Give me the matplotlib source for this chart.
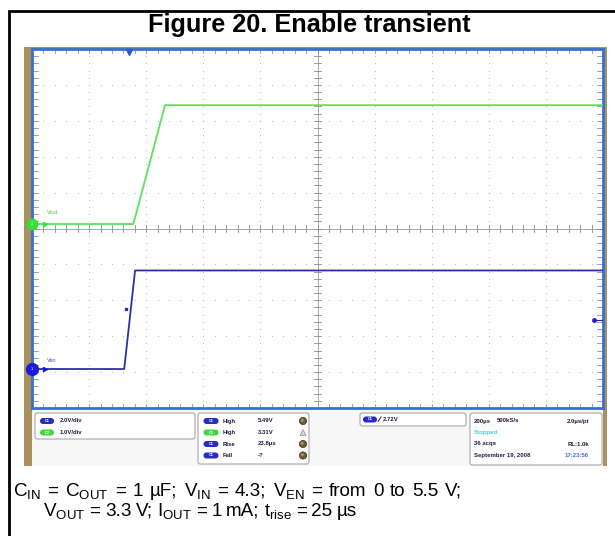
import matplotlib
matplotlib.use("Agg")
import matplotlib.pyplot as plt
import numpy as np
from matplotlib.patches import Rectangle, FancyBboxPatch, Circle, Polygon

# ---------------- data ----------------
TIME_PER_DIV = 200.0            # µs/div
N_XDIV, N_YDIV = 10, 10
# Vout (channel 2, 1.0 V/div)
t_vout = [0, 355, 466, 2000]    # µs
v_vout = [0.0, 0.0, 3.31, 3.31] # V
# Ven (channel 1, 2.0 V/div)
t_ven = [0, 323, 361, 2000]
v_ven = [0.0, 0.0, 5.49, 5.49]
ch1_scale, ch2_scale = 2.0, 1.0     # V/div
ch1_offset, ch2_offset = 1.086, 5.125  # ground position (div from bottom)
trig_level = 2.72
trig_time = 340.0

scale_labels = ["2.0V/div", "1.0V/div"]
meas_names = ["High", "High", "Rise", "Fall"]
meas_values = ["5.49V", "3.31V", "23.8µs", "-?"]
meas_channel = [1, 2, 1, 1]
acq_rows = [("200µs", "500kS/s", "2.0µs/pt"), ("Stopped", "", ""),
            ("36 acqs", "", "RL:1.0k"), ("September 19, 2008", "", "17:23:56")]

title = "Figure 20. Enable transient"
caption1 = (r"C$_{\mathrm{IN}}$ = C$_{\mathrm{OUT}}$ = 1 µF; V$_{\mathrm{IN}}$ = 4.3; "
            r"V$_{\mathrm{EN}}$ = from 0 to 5.5 V;")
caption2 = (r"V$_{\mathrm{OUT}}$ = 3.3 V; I$_{\mathrm{OUT}}$ = 1 mA; "
            r"t$_{\mathrm{rise}}$ = 25 µs")

# ---------------- style ----------------
plt.rcParams['font.family'] = ['Liberation Sans', 'DejaVu Sans']
plt.rcParams['mathtext.fontset'] = 'custom'
plt.rcParams['mathtext.rm'] = 'Liberation Sans'
plt.rcParams['mathtext.it'] = 'Liberation Sans:italic'
plt.rcParams['mathtext.bf'] = 'Liberation Sans:bold'

W, H = 615, 536
GREEN = '#5ee05e'
BLUE = '#2e2ea8'
PILL_BLUE = '#2b2bc0'
PILL_GREEN = '#3fd83f'
BROWN = '#a8915c'
TXT = '#1e1e40'
CAP_FS = 13.6

fig = plt.figure(figsize=(W / 100, H / 100), dpi=100)
fig.patch.set_facecolor('white')

# pixel overlay axes
bg = fig.add_axes([0, 0, 1, 1])
bg.set_xlim(0, W)
bg.set_ylim(H, 0)
bg.axis('off')

# outer black frame
bg.plot([8.5, 8.5, W + 2], [H + 2, 10.5, 10.5], color='black', lw=2.0,
        solid_joinstyle='miter', clip_on=False)

# title
bg.text(309, 32, title, ha='center', va='baseline', fontsize=18.2,
        fontweight='bold', color='black')

# scope screenshot background
bg.add_patch(Rectangle((24, 47), 583, 419, facecolor=BROWN, edgecolor='none'))
bg.add_patch(Rectangle((32, 408), 571, 58, facecolor='#f7f7f7', edgecolor='none'))


def box(x0, y0, x1, y1):
    bg.add_patch(FancyBboxPatch((x0, y0), x1 - x0, y1 - y0,
                                boxstyle="round,pad=0,rounding_size=2.5",
                                facecolor='white', edgecolor='#a8a8a8', lw=0.8))


def pill(cx, cy, color, label, w=14, h=6):
    bg.add_patch(FancyBboxPatch((cx - w / 2, cy - h / 2), w, h,
                                boxstyle="round,pad=0,rounding_size=3",
                                facecolor=color, edgecolor='none'))
    bg.text(cx, cy, label, ha='center', va='center', fontsize=2.8,
            color='white', fontweight='bold')


def ptext(x, y, s, ha='left', color=TXT):
    bg.text(x, y, s, ha=ha, va='center', fontsize=4.3, color=color,
            fontweight='bold')


# box 1 : channel scales
box(35, 413, 195, 439)
for i, (lab, ch) in enumerate(zip(scale_labels, [1, 2])):
    y = 421 + i * 11.5
    pill(47, y, PILL_BLUE if ch == 1 else PILL_GREEN, f"C{ch}")
    ptext(60, y, lab)

# box 2 : measurements
box(198, 413, 309, 464)
for i, (nm, val, ch) in enumerate(zip(meas_names, meas_values, meas_channel)):
    y = 421 + i * 11.5
    pill(211, y, PILL_BLUE if ch == 1 else PILL_GREEN, f"C{ch}", w=15)
    ptext(223, y, nm)
    ptext(258, y, val)
    if i == 1:
        bg.add_patch(Polygon([[300, y + 3], [306, y + 3], [303, y - 3]],
                             closed=True, facecolor='#d8d8d8', edgecolor='#909090', lw=0.5))
    else:
        bg.add_patch(Circle((303, y), 3.6, facecolor='#6e5a30', edgecolor='#3c3018', lw=0.5))
        bg.add_patch(Circle((302.2, y - 0.8), 1.6, facecolor='#a89060', edgecolor='none'))

# box 3 : trigger
box(360, 413, 466, 426)
pill(370, 419.5, PILL_BLUE, "C1")
bg.plot([378, 381], [421.5, 417], color=TXT, lw=0.7)
ptext(383, 419.5, f"{trig_level:.2f}V")

# box 4 : acquisition
box(470, 413, 602, 465)
for i, (a, b, c) in enumerate(acq_rows):
    y = 421 + i * 11.5
    col = '#40d0e0' if a == "Stopped" else TXT
    ptext(474, y, a, color=col)
    if b:
        ptext(497, y, b)
    if c:
        ptext(589, y, c, ha='right', color='#3a6fd8' if ':' in c and c[0].isdigit() else TXT)

# captions: each line justified between its left and right ends
renderer = fig.canvas.get_renderer()


def justified(line, y, x_start, x_end):
    words = line.split(' ')
    texts = [bg.text(0, y, w, ha='left', va='baseline', fontsize=CAP_FS,
                     color='black') for w in words]
    widths = [t.get_window_extent(renderer).width for t in texts]
    gap = (x_end - x_start - sum(widths)) / (len(words) - 1)
    xpos = x_start
    for t, wd in zip(texts, widths):
        t.set_x(xpos)
        xpos += wd + gap


justified(caption1, 496, 13.0, 462.0)
justified(caption2, 516, 43.0, 357.0)

# ---------------- scope graticule ----------------
ax = fig.add_axes([32 / W, 1 - 408 / H, 571 / W, 359 / H])
ax.set_xlim(0, N_XDIV * TIME_PER_DIV)
ax.set_ylim(0, N_YDIV)
ax.set_facecolor('white')
ax.set_xticks([])
ax.set_yticks([])
for s in ax.spines.values():
    s.set_color('#3a6fd0')
    s.set_linewidth(2.0)

xmax = N_XDIV * TIME_PER_DIV
sub_x = np.arange(0, xmax + 1e-6, TIME_PER_DIV / 5)
sub_y = np.arange(0, N_YDIV + 1e-6, 0.2)
dot_c = '#bdbdbd'
for k in range(1, N_XDIV):
    if k == N_XDIV // 2:
        continue
    ax.scatter(np.full(sub_y.size, k * TIME_PER_DIV), sub_y, s=0.8, color=dot_c,
               linewidths=0, zorder=1)
for k in range(1, N_YDIV):
    if k == N_YDIV // 2:
        continue
    ax.scatter(sub_x, np.full(sub_x.size, k), s=0.8, color=dot_c,
               linewidths=0, zorder=1)

# centre cross with ticks
cx, cy = xmax / 2, N_YDIV / 2
ax.axhline(cy, color='#9a9a9a', lw=0.6, zorder=1)
ax.axvline(cx, color='#9a9a9a', lw=0.6, zorder=1)
tick_dy = 0.09
tick_dx = 0.09 * TIME_PER_DIV * 35.9 / 57.1
for x in sub_x:
    ax.plot([x, x], [cy - tick_dy, cy + tick_dy], color='#8a8a8a', lw=0.6, zorder=1)
for y in sub_y:
    ax.plot([cx - tick_dx, cx + tick_dx], [y, y], color='#8a8a8a', lw=0.6, zorder=1)

# edge ticks
edge_c = '#7a90c8'
for x in sub_x:
    ax.plot([x, x], [N_YDIV, N_YDIV - 0.11], color=edge_c, lw=0.6, zorder=1)
    ax.plot([x, x], [0, 0.11], color=edge_c, lw=0.6, zorder=1)
for y in sub_y:
    ax.plot([0, 2 * tick_dx], [y, y], color=edge_c, lw=0.6, zorder=1)
    ax.plot([xmax, xmax - 2 * tick_dx], [y, y], color=edge_c, lw=0.6, zorder=1)

# ---------------- traces ----------------
y_vout = ch2_offset + np.array(v_vout) / ch2_scale
y_ven = ch1_offset + np.array(v_ven) / ch1_scale
ax.plot(t_vout, y_vout, color=GREEN, lw=1.3, zorder=3, solid_joinstyle='round')
ax.plot(t_ven, y_ven, color=BLUE, lw=1.3, zorder=3, solid_joinstyle='round')

# ground markers
ax.plot([0], [ch2_offset], marker='o', ms=7.5, color='#36e036', clip_on=False, zorder=5)
ax.plot([45], [ch2_offset], marker='>', ms=3, color='#36e036', clip_on=False, zorder=5)
ax.plot([0], [ch1_offset], marker='o', ms=8.5, color='#1a1ae0', clip_on=False, zorder=5)
ax.plot([45], [ch1_offset], marker='>', ms=3, color='#1a1ae0', clip_on=False, zorder=5)
ax.text(0, ch2_offset, "2", ha='center', va='center', fontsize=3, color='white', zorder=6)
ax.text(0, ch1_offset, "1", ha='center', va='center', fontsize=3, color='white', zorder=6)
ax.text(52, ch2_offset + 0.33, "Vout", fontsize=4, color='#40c040', va='center', zorder=6)
ax.text(52, ch1_offset + 0.25, "Ven", fontsize=4, color='#4a4aa0', va='center', zorder=6)

# trigger markers
ax.plot([trig_time], [N_YDIV - 0.08], marker='v', ms=4.5, color='#2a5ad0',
        clip_on=False, zorder=6)
trig_y = ch1_offset + trig_level / ch1_scale
ax.plot([trig_time - 12], [trig_y + 0.3], marker='s', ms=1.8, color=BLUE, zorder=6)
ax.plot([xmax - 32], [trig_y], marker='o', ms=2.5, color='#2020c0', zorder=6)
ax.plot([xmax - 32, xmax], [trig_y, trig_y], color='#2020c0', lw=0.8, zorder=6)

fig.savefig('out.png', dpi=100, facecolor='white')
